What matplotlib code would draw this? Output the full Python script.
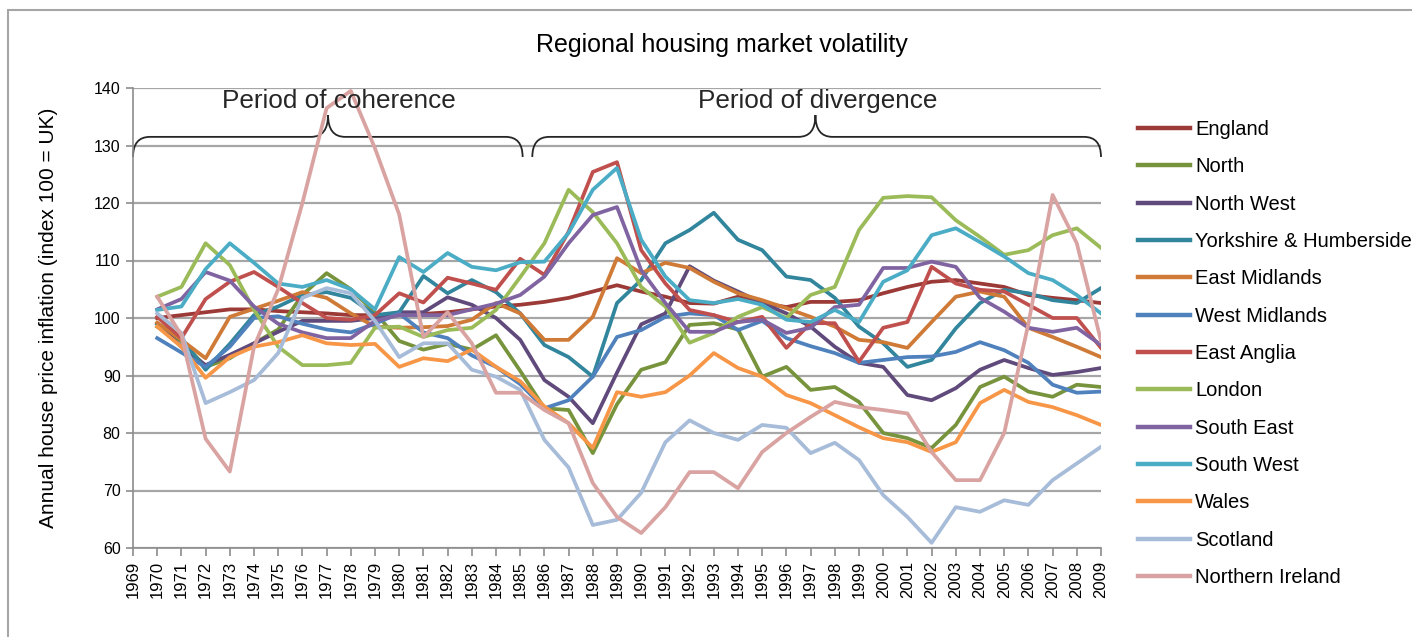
import numpy as np
import matplotlib
matplotlib.use("Agg")
import matplotlib.pyplot as plt
from matplotlib.path import Path
from matplotlib.patches import PathPatch, Rectangle

plt.rcParams['font.family'] = ['Liberation Sans', 'DejaVu Sans']

years = list(range(1969, 2010))
series_names = ["England", "North", "North West", "Yorkshire & Humberside",
                "East Midlands", "West Midlands", "East Anglia", "London",
                "South East", "South West", "Wales", "Scotland", "Northern Ireland"]

# values for 1970..2009 (1969 has no data)
england = [100, 100.5, 101, 101.5, 101.5, 101.2, 101, 100.8, 100.5, 100.5,
           100.5, 100.7, 101, 101.5, 102, 102.3, 102.8, 103.5, 104.6, 105.7,
           104.6, 103.7, 102.6, 102.5, 103.7, 102.6, 101.9, 102.8, 102.8, 103.1,
           104.3, 105.4, 106.3, 106.6, 106, 105.4, 104, 103.5, 103.1, 102.6]
north = [98.5, 96, 91.5, 93, 95.6, 98, 104, 107.8, 105, 101,
         96, 94.5, 95.5, 94.5, 97, 90.8, 84.3, 84, 76.5, 85,
         91, 92.3, 98.8, 99.1, 98, 89.8, 91.5, 87.5, 88, 85.4,
         80, 79.1, 77.4, 81.4, 88, 89.8, 87.2, 86.3, 88.4, 88]
north_west = [99, 95, 91.8, 93.6, 95.6, 97.6, 99.5, 99.5, 99.5, 100,
              101, 101, 103.6, 102.3, 100, 96.2, 89.2, 86.3, 81.7, 90.5,
              98.9, 100.8, 109, 106.5, 104.6, 102.6, 100.8, 98.5, 95, 92.2,
              91.5, 86.6, 85.7, 87.8, 91, 92.7, 91.3, 90.1, 90.6, 91.3]
yorkshire = [99, 96.5, 91, 95.5, 100.5, 102, 104, 104.5, 103.5, 100.5,
             101, 107.3, 104.3, 106.6, 104.5, 100.8, 95.3, 93.2, 89.8, 102.6,
             106.6, 113, 115.3, 118.3, 113.6, 111.8, 107.2, 106.6, 103.5, 98.5,
             95.6, 91.5, 92.7, 98.2, 102.6, 104.9, 104.3, 103.1, 102.6, 105.2]
east_midlands = [99.2, 96.2, 93, 100.2, 101.6, 103, 104.5, 103.5, 100.8, 98.5,
                 98.3, 98.4, 98.6, 99.7, 102.6, 100.8, 96.2, 96.2, 100.2, 110.4,
                 107.8, 109.6, 108.7, 106.3, 104.3, 103.1, 101.7, 100.2, 98.5, 96.2,
                 95.8, 94.8, 99.3, 103.7, 104.6, 103.7, 98.3, 96.7, 95, 93.2]
west_midlands = [96.5, 94, 91.5, 95, 100, 100.3, 99, 98, 97.5, 99,
                 100.8, 97.5, 96.5, 93.5, 91.5, 88.5, 84.3, 85.7, 89.8, 96.7,
                 97.9, 100.2, 100.8, 100.5, 97.9, 99.5, 96.5, 95.1, 93.9, 92.2,
                 92.7, 93.2, 93.3, 94.1, 95.8, 94.4, 92.2, 88.4, 87, 87.2]
east_anglia = [100.2, 96.5, 103.3, 106.3, 108, 105.4, 102.6, 100, 99.7, 100.5,
               104.3, 102.7, 107, 106, 104.9, 110.3, 107.5, 115, 125.4, 127.1,
               111.8, 106, 101.4, 100.5, 99.3, 100.2, 94.8, 99.1, 99.1, 92.4,
               98.3, 99.3, 108.9, 106, 104.9, 104.6, 102.3, 100, 100, 94.8]
london = [103.7, 105.4, 113, 109.2, 101.4, 95, 91.8, 91.8, 92.2, 98.3,
          98.5, 96.7, 97.9, 98.3, 101.4, 107.1, 113, 122.3, 118.4, 113,
          105.4, 102, 95.7, 97.4, 100.2, 101.9, 100, 104, 105.4, 115.3,
          120.9, 121.2, 121, 117, 114.1, 111, 111.8, 114.4, 115.6, 112.2]
south_east = [101.5, 103.3, 108, 106.5, 102, 99, 97.5, 96.5, 96.5, 99.5,
              100.5, 100.5, 100.5, 101.5, 102.5, 104, 107.2, 113, 117.9, 119.3,
              108.3, 102.6, 97.6, 97.6, 99.3, 99.7, 97.4, 98.3, 101.9, 102.3,
              108.7, 108.7, 109.8, 108.9, 103.5, 101.1, 98.3, 97.6, 98.3, 95.3]
south_west = [101.4, 102, 108.5, 113, 109.6, 106, 105.4, 106.6, 105, 101.5,
              110.6, 108, 111.3, 108.9, 108.3, 109.7, 109.8, 114.8, 122.3, 126.1,
              113.6, 107.2, 103.1, 102.6, 103.3, 102.3, 99.7, 99.3, 101.4, 99.3,
              106.3, 108.3, 114.4, 115.6, 113.2, 110.7, 107.8, 106.6, 104, 100.8]
wales = [98.5, 95, 89.6, 93.2, 95, 95.8, 97, 95.6, 95.3, 95.5,
         91.5, 93, 92.5, 94.5, 91.5, 89, 84.6, 81.7, 77.4, 87.1,
         86.3, 87.1, 90, 93.9, 91.3, 89.8, 86.6, 85.2, 83.1, 81,
         79.1, 78.4, 76.7, 78.4, 85.2, 87.5, 85.4, 84.5, 83.1, 81.4]
scotland = [100.8, 97.4, 85.2, 87.1, 89.2, 93.9, 103.5, 105.2, 104.3, 99.5,
            93.2, 95.6, 95.6, 91, 89.8, 87.5, 78.8, 74, 64, 64.9,
            69.6, 78.4, 82.2, 80, 78.8, 81.4, 80.9, 76.5, 78.3, 75.3,
            69.2, 65.4, 60.9, 67.1, 66.3, 68.3, 67.5, 71.8, 74.7, 77.6]
northern_ireland = [103.7, 97, 79, 73.3, 95, 105, 120, 136.5, 139.5, 129.5,
                    118, 96.7, 101, 95.6, 87, 87, 84, 81.7, 71.3, 65.4,
                    62.6, 67.1, 73.2, 73.2, 70.4, 76.7, 80, 82.8, 85.4, 84.5,
                    84, 83.4, 76.7, 71.8, 71.8, 80, 99, 121.4, 113, 96]

series_values = [england, north, north_west, yorkshire, east_midlands, west_midlands,
                 east_anglia, london, south_east, south_west, wales, scotland,
                 northern_ireland]
colors = ["#9B3A36", "#77933C", "#604A7B", "#31859C", "#CF7A36", "#4F81BD",
          "#C0504D", "#9BBB59", "#8064A2", "#4BACC6", "#F79646", "#A7BCD9",
          "#D9A3A2"]

fig = plt.figure(figsize=(14.12, 6.37), dpi=100)
# outer chart frame
fig.patches.append(Rectangle((8 / 1412, -0.1), 1.2, 1.1 - 10 / 637,
                             transform=fig.transFigure, fill=False,
                             edgecolor="#A6A6A6", linewidth=1.5))

ax = fig.add_axes([133 / 1412, 1 - 548 / 637, (1101 - 133) / 1412, (548 - 88) / 637])

x = np.arange(len(years))
for name, vals, c in zip(series_names, series_values, colors):
    y = [np.nan] + list(vals)
    ax.plot(x, y, color=c, linewidth=2.7, label=name, solid_joinstyle='round')

ax.set_xlim(0, len(years) - 1)
ax.set_ylim(60, 140)
ax.set_yticks(range(60, 141, 10))
ax.yaxis.grid(True, color="#A6A6A6", linewidth=1.6)
ax.set_axisbelow(True)
ax.set_xticks(x)
ax.set_xticklabels([str(y) for y in years], rotation=90, fontsize=12)
ax.tick_params(axis='y', labelsize=11.5, length=5, color="#8C8C8C", width=1.2, pad=4)
ax.tick_params(axis='x', length=6, color="#8C8C8C", width=1.2, pad=3)
for s in ['top', 'right']:
    ax.spines[s].set_visible(False)
for s in ['left', 'bottom']:
    ax.spines[s].set_color("#8C8C8C")
    ax.spines[s].set_linewidth(1.2)

ax.set_ylabel("Annual house price inflation (index 100 = UK)", fontsize=15)
ax.yaxis.set_label_coords(-0.077, 0.5)

fig.text(0.511, 0.929, "Regional housing market volatility", ha='center', va='center',
         fontsize=18)


def brace(ax, x0, x1, xc, yb, ym, yt, r=0.7):
    verts = [(x0, yb), (x0, ym), (x0 + r, ym),
             (xc - r, ym),
             (xc, ym), (xc, yt),
             (xc, ym), (xc + r, ym),
             (x1 - r, ym),
             (x1, ym), (x1, yb)]
    codes = [Path.MOVETO, Path.CURVE3, Path.CURVE3,
             Path.LINETO,
             Path.CURVE3, Path.CURVE3,
             Path.CURVE3, Path.CURVE3,
             Path.LINETO,
             Path.CURVE3, Path.CURVE3]
    p = PathPatch(Path(verts, codes), fill=False, edgecolor="#262626",
                  linewidth=1.3, clip_on=False, transform=ax.transData)
    ax.add_patch(p)


brace(ax, 0, 16.1, 8.06, 128.0, 131.5, 135.3)
brace(ax, 16.5, 40, 28.2, 128.0, 131.5, 135.3)
ax.text(8.5, 137.7, "Period of coherence", ha='center', va='center', fontsize=18.8,
        color="#262626")
ax.text(28.3, 137.7, "Period of divergence", ha='center', va='center', fontsize=18.8,
        color="#262626")

fig.legend(loc='upper left', bbox_to_anchor=(1138 / 1412, 1 - 120 / 637),
           frameon=False, fontsize=14.5, handlelength=2.58, handletextpad=0.25,
           labelspacing=0.91, borderaxespad=0, borderpad=0)
for line in fig.legends[0].get_lines():
    line.set_linewidth(3.2)

fig.savefig("out.png", dpi=100)
